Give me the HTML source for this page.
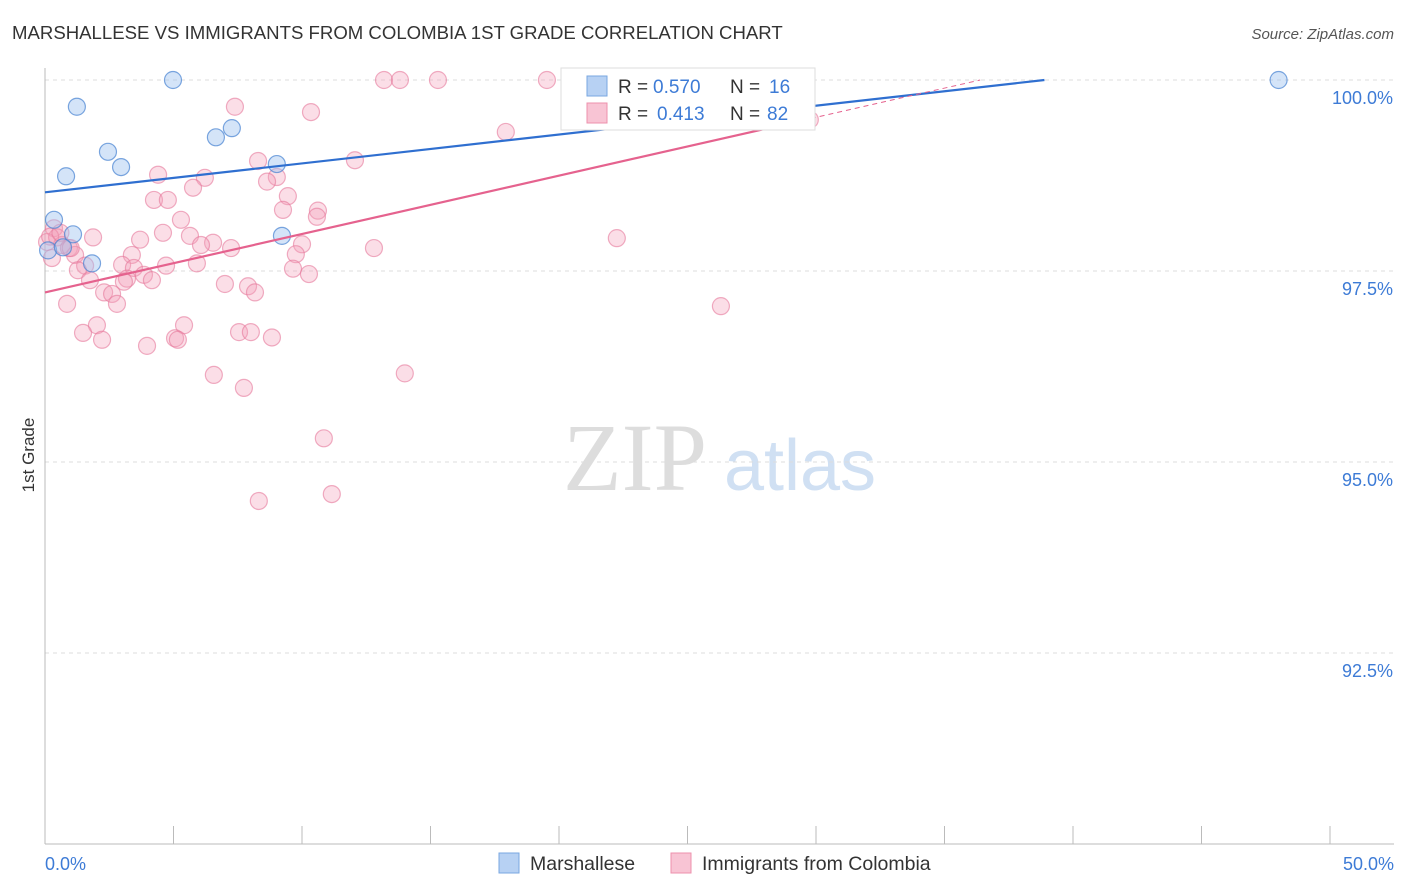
<!DOCTYPE html>
<html><head><meta charset="utf-8"><style>
body{margin:0;background:#fff;font-family:"Liberation Sans",sans-serif;}
svg{display:block}
</style></head><body>
<svg id="c" width="1406" height="892" xmlns="http://www.w3.org/2000/svg">
<text x="12" y="39" font-size="18.6" fill="#333">MARSHALLESE VS IMMIGRANTS FROM COLOMBIA 1ST GRADE CORRELATION CHART</text>
<text x="1394" y="39" font-size="15" fill="#555" font-style="italic" text-anchor="end">Source: ZipAtlas.com</text>
<text x="34" y="455" font-size="17" fill="#333" transform="rotate(-90 34 455)" text-anchor="middle">1st Grade</text>
<g><text x="635" y="490" font-size="96" fill="#ddd" font-family="Liberation Serif" text-anchor="middle">ZIP</text><text x="800" y="490" font-size="72" fill="#d0e0f3" text-anchor="middle">atlas</text></g>
<g id="grid"></g><g id="pts"></g><g id="lines"></g>
<g>
<rect x="561" y="68" width="254" height="62" fill="#fff" stroke="#ddd"/>
<rect x="587" y="76" width="20" height="20" fill="#b7d1f3" stroke="#7aa7e0"/>
<text x="618" y="93" font-size="19" fill="#333">R =</text><text x="653" y="93" font-size="19" fill="#3d7bd6">0.570</text>
<text x="730" y="93" font-size="19" fill="#333">N =</text><text x="769" y="93" font-size="19" fill="#3d7bd6">16</text>
<rect x="587" y="103" width="20" height="20" fill="#f8c4d4" stroke="#ee90ac"/>
<text x="618" y="120" font-size="19" fill="#333">R =</text><text x="657" y="120" font-size="19" fill="#3d7bd6">0.413</text>
<text x="730" y="120" font-size="19" fill="#333">N =</text><text x="767" y="120" font-size="19" fill="#3d7bd6">82</text>
</g>
<g>
<rect x="499" y="853" width="20" height="20" fill="#b7d1f3" stroke="#7aa7e0"/>
<text x="530" y="870" font-size="19.5" fill="#333">Marshallese</text>
<rect x="671" y="853" width="20" height="20" fill="#f8c4d4" stroke="#ee90ac"/>
<text x="702" y="870" font-size="19.5" fill="#333">Immigrants from Colombia</text>
</g>
</svg>
<script>
const yTicks=[100,97.5,95,92.5];
const yTickLabels=["100.0%","97.5%","95.0%","92.5%"];
const xTickLabels=["0.0%","50.0%"];
const blueX=[4.98,1.24,6.65,7.27,2.45,2.96,0.82,9.02,0.35,1.09,0.12,1.83,9.22,27.6,48.0,0.70];
const blueY=[100,99.65,99.25,99.37,99.06,98.86,98.74,98.90,98.17,97.98,97.77,97.60,97.96,100,100,97.81];
const pinkX=[13.19,13.81,15.29,19.53,20.73,7.39,10.35,17.93,29.76,8.29,12.06,4.40,6.22,9.02,8.64,5.76,9.45,4.24,4.78,9.26,10.62,10.58,5.29,0.35,1.87,4.59,5.64,6.54,6.07,7.24,10.0,12.8,22.25,0.08,0.47,0.66,0.93,0.27,1.17,1.56,1.28,3.38,3.70,3.0,3.46,4.71,5.91,9.76,9.65,10.27,3.85,4.16,3.19,3.07,1.75,7.0,7.90,8.17,2.30,2.61,2.80,0.86,26.3,2.02,5.41,1.48,2.22,5.06,5.17,3.97,7.55,8.01,8.83,6.57,7.74,14.0,10.85,8.32,11.16,0.2,0.6,1.0];
const pinkY=[100,100,100,100,100,99.65,99.58,99.32,99.48,98.94,98.95,98.76,98.72,98.73,98.67,98.59,98.48,98.43,98.43,98.30,98.29,98.21,98.17,98.06,97.94,98.00,97.96,97.87,97.84,97.80,97.85,97.80,97.93,97.88,97.94,97.84,97.80,97.67,97.71,97.57,97.51,97.71,97.91,97.58,97.54,97.57,97.60,97.72,97.53,97.46,97.45,97.38,97.40,97.36,97.38,97.33,97.30,97.22,97.22,97.20,97.07,97.07,97.04,96.79,96.79,96.69,96.60,96.62,96.60,96.52,96.70,96.70,96.63,96.14,95.97,96.16,95.31,94.49,94.58,97.95,98.0,97.8];
const blueFit=[98.53,0.0378];
const pinkFit=[97.22,0.0764];
const X=v=>45+v*25.7, Y=v=>80+(100-v)*76.4;
const NS="http://www.w3.org/2000/svg";
function mk(t,a,p){const e=document.createElementNS(NS,t);for(const k in a)e.setAttribute(k,a[k]);document.getElementById(p).appendChild(e);return e;}
let e;
yTicks.forEach((t,i)=>{
 e=mk('line',{x1:45,x2:1394,y1:Y(t),y2:Y(t),stroke:'#ddd','stroke-dasharray':'4,4'},'grid');
 
 
 e=mk('text',{x:1393,y:Y(t)+24,'font-size':18,fill:'#3d7bd6','text-anchor':'end'},'grid');
 e.textContent=yTickLabels[i];
 
 
});
e=mk('line',{x1:45,x2:45,y1:68,y2:844,stroke:'#bbb'},'grid');


e=mk('line',{x1:45,x2:1394,y1:844,y2:844,stroke:'#bbb'},'grid');


for(let i=0;i<=10;i++){
 e=mk('line',{x1:X(i*5),x2:X(i*5),y1:826,y2:844,stroke:'#bbb'},'grid');
 
 
}
[[0,'start',45],[50,'end',1394]].forEach((d,i)=>{
 e=mk('text',{x:d[2],y:870,'font-size':18,fill:'#3d7bd6','text-anchor':d[1]},'grid');
 e.textContent=xTickLabels[i];
 
 
});
pinkX.forEach((x,i)=>{
 e=mk('circle',{cx:X(x),cy:Y(pinkY[i]),r:8.5,fill:'rgba(244,160,186,0.35)',stroke:'rgba(230,120,155,0.6)','stroke-width':1.2},'pts');
 
 
});
blueX.forEach((x,i)=>{
 e=mk('circle',{cx:X(x),cy:Y(blueY[i]),r:8.5,fill:'rgba(160,195,240,0.45)',stroke:'rgba(70,130,210,0.7)','stroke-width':1.2},'pts');
 
 
});
const bEnd=(100-blueFit[0])/blueFit[1];
e=mk('line',{x1:X(0),y1:Y(blueFit[0]),x2:X(bEnd),y2:Y(100),stroke:'#2f6fd0','stroke-width':2.2},'lines');


const pMid=29.8, pEnd=(100-pinkFit[0])/pinkFit[1];
e=mk('line',{x1:X(0),y1:Y(pinkFit[0]),x2:X(pMid),y2:Y(pinkFit[0]+pinkFit[1]*pMid),stroke:'#e5628e','stroke-width':2.2},'lines');


e=mk('line',{x1:X(pMid),y1:Y(pinkFit[0]+pinkFit[1]*pMid),x2:X(pEnd),y2:Y(100),stroke:'#e5628e','stroke-width':1,'stroke-dasharray':'5,4'},'lines');


</script>
</body></html>
